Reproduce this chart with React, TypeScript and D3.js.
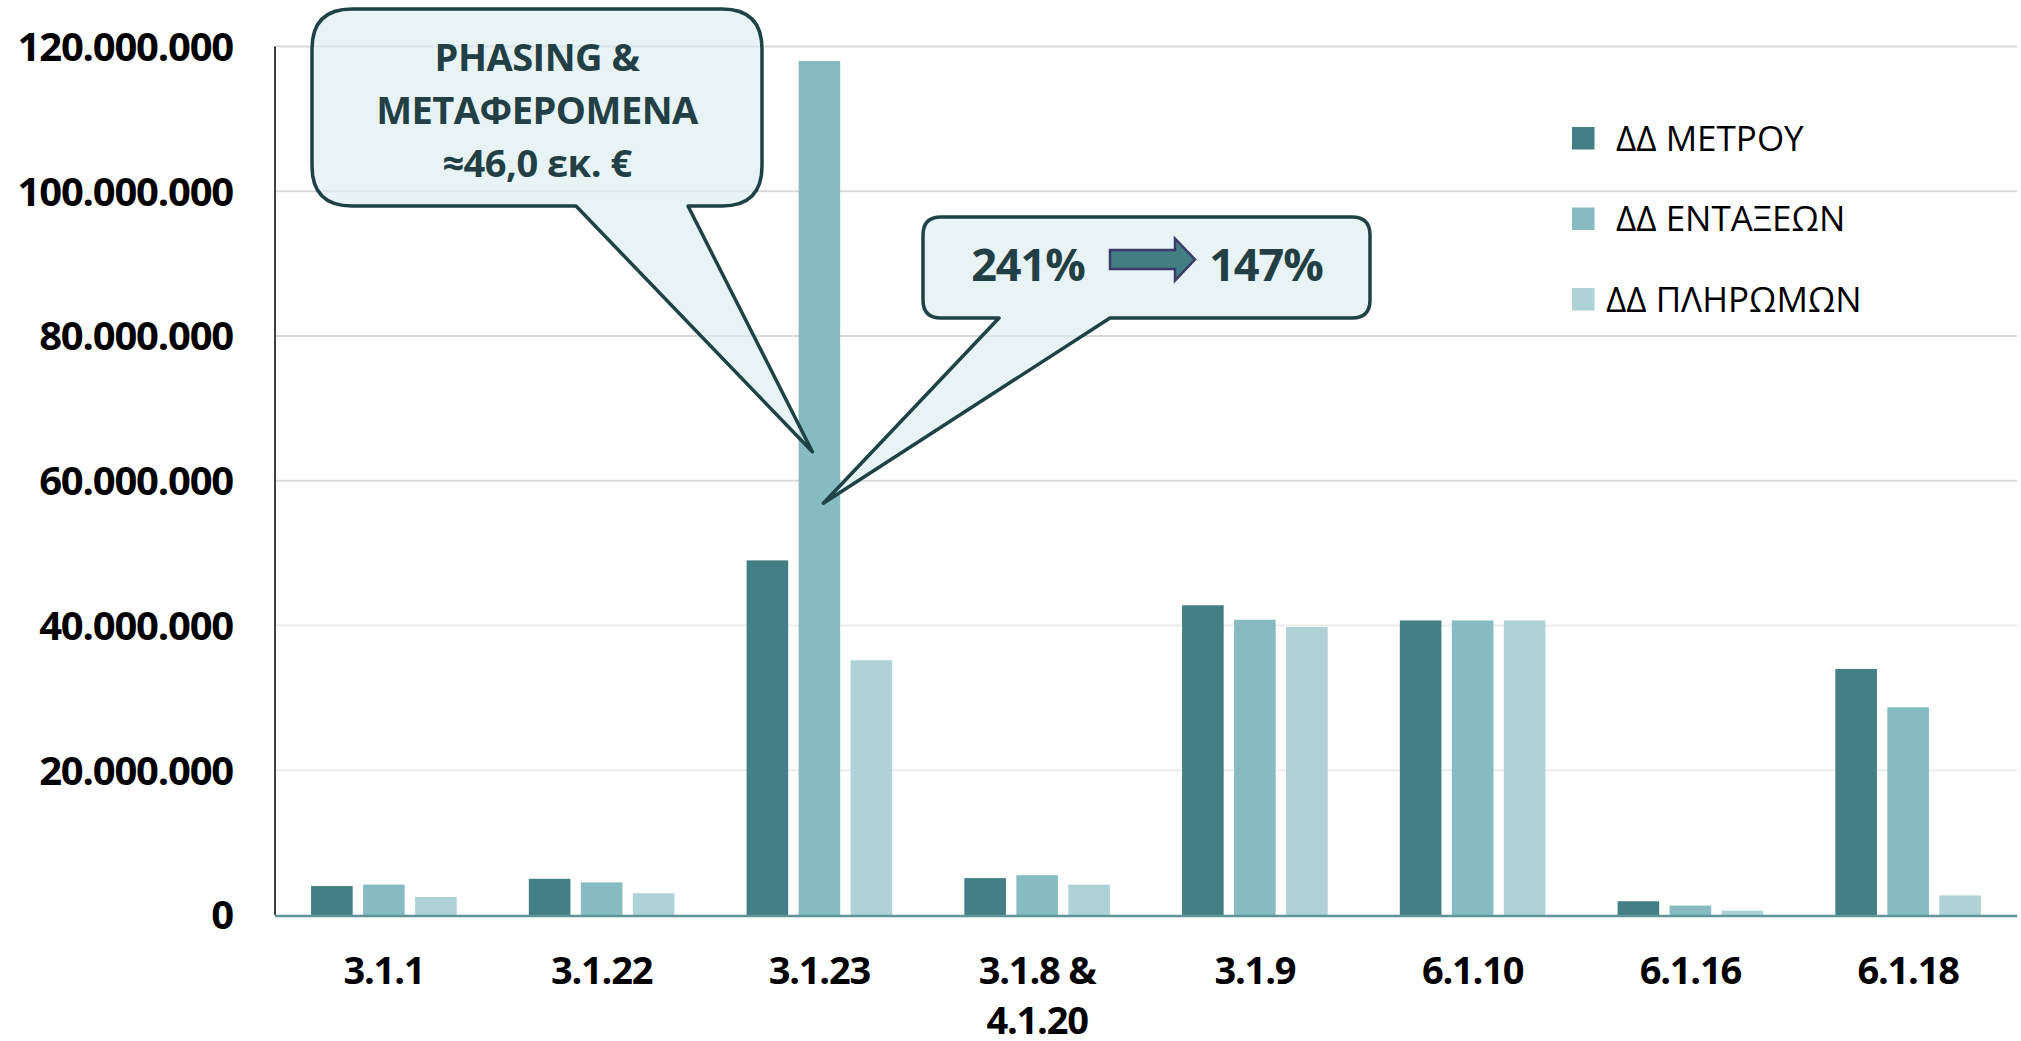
import React from "react";
import * as d3 from "d3";

// data
const categories = ["3.1.1", "3.1.22", "3.1.23", "3.1.8 & 4.1.20", "3.1.9", "6.1.10", "6.1.16", "6.1.18"];
const seriesNames = ["ΔΔ ΜΕΤΡΟΥ", "ΔΔ ΕΝΤΑΞΕΩΝ", "ΔΔ ΠΛΗΡΩΜΩΝ"];
const metrou = [4.0e6, 5.0e6, 49.0e6, 5.1e6, 42.8e6, 40.7e6, 1.9e6, 34.0e6];
const entaxeon = [4.2e6, 4.5e6, 118.0e6, 5.5e6, 40.8e6, 40.7e6, 1.3e6, 28.7e6];
const pliromon = [2.5e6, 3.0e6, 35.2e6, 4.2e6, 39.8e6, 40.7e6, 0.6e6, 2.7e6];
const yTicks = [0, 20e6, 40e6, 60e6, 80e6, 100e6, 120e6];

const callout1Lines = ["PHASING &", "ΜΕΤΑΦΕΡΟΜΕΝΑ", "≈46,0 εκ. €"];
const callout2From = "241%";
const callout2To = "147%";

const colors = ["#447f85", "#86bcc1", "#aed2d5"];
const font = "'Open Sans', 'Noto Sans', sans-serif";

export default function App() {
	const width = 2021;
	const height = 1041;
	const marginLeft = 275;
	const marginRight = 4;
	const marginTop = 46.5;
	const marginBottom = 126;

	const values = [metrou, entaxeon, pliromon];

	const x0 = d3
		.scaleBand<string>()
		.domain(categories)
		.range([marginLeft, width - marginRight]);

	const bw = x0.bandwidth();
	const x1 = d3
		.scaleBand<string>()
		.domain(seriesNames)
		.range([bw / 2 - 78, bw / 2 + 78])
		.paddingInner(0.2)
		.paddingOuter(0.1);

	const y = d3
		.scaleLinear()
		.domain([0, 120e6])
		.range([height - marginBottom, marginTop]);

	const fmt = d3.formatLocale({
		decimal: ",",
		thousands: ".",
		grouping: [3],
		currency: ["", "€"],
	}).format(",");

	const wrap = (s: string) =>
		s.includes(" & ") ? [s.split(" & ")[0] + " &", s.split(" & ")[1]] : [s];

	// callout tips, in data space (mid bar of 3.1.23)
	const tipCat = categories[2];
	const tipX = (x0(tipCat) || 0) + (x1(seriesNames[1]) || 0) + x1.bandwidth() / 2;
	const tip1 = [tipX - 7, y(64e6)];
	const tip2 = [tipX + 4, y(56.9e6)];

	// callout 1 shape
	const c1 = { l: 312, r: 762, t: 9, b: 206, rad: 40 };
	const c1Path = `M${c1.l + c1.rad},${c1.t} H${c1.r - c1.rad} Q${c1.r},${c1.t} ${c1.r},${c1.t + c1.rad}
		V${c1.b - c1.rad} Q${c1.r},${c1.b} ${c1.r - c1.rad},${c1.b} H688 L${tip1[0]},${tip1[1]} L576,${c1.b}
		H${c1.l + c1.rad} Q${c1.l},${c1.b} ${c1.l},${c1.b - c1.rad} V${c1.t + c1.rad} Q${c1.l},${c1.t} ${c1.l + c1.rad},${c1.t} Z`;

	const c2 = { l: 923, r: 1370, t: 217, b: 318, rad: 18 };
	const c2Path = `M${c2.l + c2.rad},${c2.t} H${c2.r - c2.rad} Q${c2.r},${c2.t} ${c2.r},${c2.t + c2.rad}
		V${c2.b - c2.rad} Q${c2.r},${c2.b} ${c2.r - c2.rad},${c2.b} H1110 L${tip2[0]},${tip2[1]} L999,${c2.b}
		H${c2.l + c2.rad} Q${c2.l},${c2.b} ${c2.l},${c2.b - c2.rad} V${c2.t + c2.rad} Q${c2.l},${c2.t} ${c2.l + c2.rad},${c2.t} Z`;

	// arrow inside callout 2
	const arrow = "M1110,250 H1175 V238.5 L1195,259.5 L1175,280.5 V269 H1110 Z";

	return (
		<svg
			width={width}
			height={height}
			style={{ position: "absolute", left: 0, top: 0, background: "#fff" }}
			fontFamily={font}
		>
			{/* gridlines */}
			<g>
				{yTicks.filter((t) => t > 0).map((t) => (
					<line
						key={t}
						x1={marginLeft}
						x2={width - marginRight}
						y1={y(t)}
						y2={y(t)}
						stroke={t >= 60e6 ? "#d9d9d9" : "#ececec"}
						strokeWidth={2}
					/>
				))}
			</g>

			{/* y-axis labels */}
			<g>
				{yTicks.map((t) => (
					<text
						key={t}
						x={233}
						y={y(t)}
						dy="0.36em"
						textAnchor="end"
						fontSize={40}
						fontWeight={700}
						letterSpacing={-1.2}
						fill="#000"
					>
						{fmt(t)}
					</text>
				))}
			</g>

			{/* bars */}
			{categories.map((c, i) => (
				<g key={c} transform={`translate(${x0(c)},0)`}>
					{seriesNames.map((s, k) => (
						<rect
							key={s}
							x={x1(s)}
							y={y(values[k][i])}
							width={x1.bandwidth()}
							height={y(0) - y(values[k][i])}
							fill={colors[k]}
						/>
					))}
				</g>
			))}

			{/* axes lines */}
			<line x1={marginLeft} x2={marginLeft} y1={marginTop} y2={y(0)} stroke="#000" strokeWidth={1.5} />
			<line x1={marginLeft} x2={width - marginRight} y1={y(0) + 1} y2={y(0) + 1} stroke="#5f9499" strokeWidth={2.5} />

			{/* x labels */}
			<g>
				{categories.map((c) => (
					<text
						key={c}
						x={(x0(c) || 0) + bw / 2}
						y={984}
						textAnchor="middle"
						fontSize={38}
						fontWeight={700}
						letterSpacing={-1.2}
						fill="#000"
					>
						{wrap(c).map((line, j) => (
							<tspan key={j} x={(x0(c) || 0) + bw / 2} dy={j === 0 ? 0 : 50}>
								{line}
							</tspan>
						))}
					</text>
				))}
			</g>

			{/* legend */}
			<g>
				{seriesNames.map((s, k) => (
					<g key={s} transform={`translate(1572, ${127 + k * 80.5})`}>
						<rect width={22.5} height={22.5} fill={colors[k]} />
						<text
							x={k === 2 ? 34 : 44}
							y={23.5}
							fontSize={35}
							fill="#000"
						>
							{s}
						</text>
					</g>
				))}
			</g>

			{/* callout 1 */}
			<path d={c1Path} fill="#dcedef" fillOpacity={0.65} stroke="#1f4247" strokeWidth={3.5} strokeLinejoin="round" />
			{callout1Lines.map((t, j) => (
				<text
					key={j}
					x={(c1.l + c1.r) / 2}
					y={71 + j * 53}
					textAnchor="middle"
					fontSize={38}
					fontWeight={700}
					letterSpacing={-0.5}
					fill="#213f44"
				>
					{t}
				</text>
			))}

			{/* callout 2 */}
			<path d={c2Path} fill="#dcedef" fillOpacity={0.65} stroke="#1f4247" strokeWidth={3.5} strokeLinejoin="round" />
			<text x={1028} y={281} textAnchor="middle" fontSize={45} fontWeight={700} letterSpacing={-1} fill="#213f44">
				{callout2From}
			</text>
			<path d={arrow} fill="#437e83" stroke="#3b3a6a" strokeWidth={2.5} />
			<text x={1266} y={281} textAnchor="middle" fontSize={45} fontWeight={700} letterSpacing={-1} fill="#213f44">
				{callout2To}
			</text>
		</svg>
	);
}
